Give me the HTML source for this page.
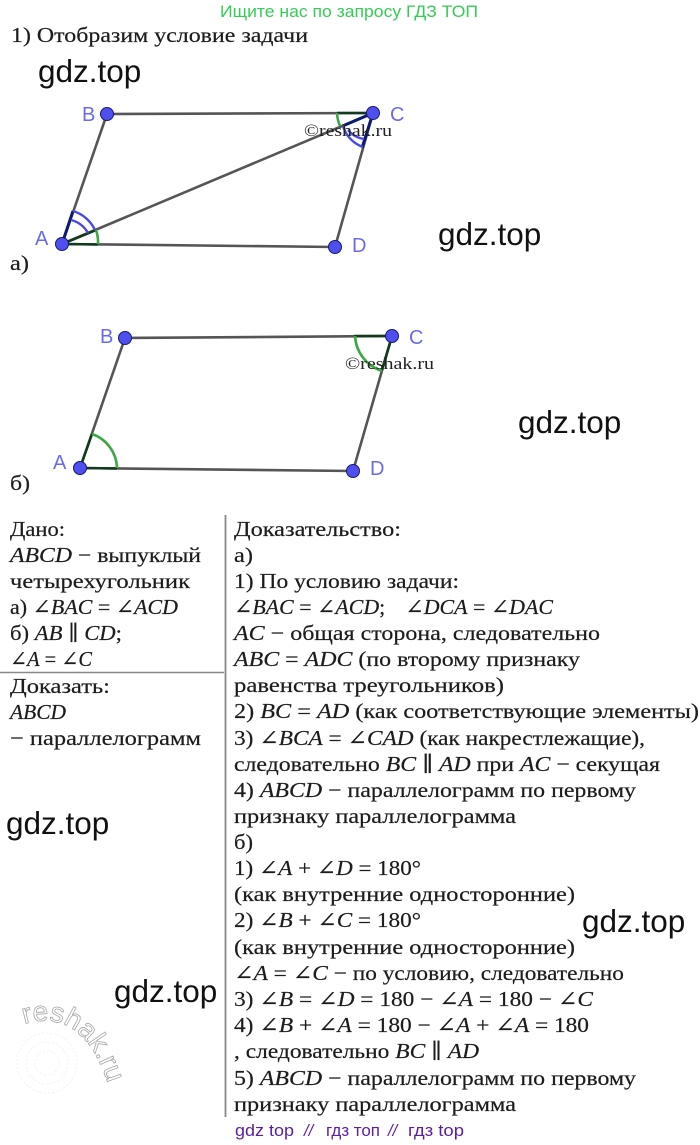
<!DOCTYPE html>
<html><head><meta charset="utf-8">
<style>
html,body{margin:0;padding:0;background:#fff;width:700px;height:1145px;overflow:hidden}
svg{display:block}
.t{font-family:"Liberation Serif","DejaVu Serif",serif;font-size:21px;fill:#1c1c1c;stroke:#1c1c1c;stroke-width:.2}
.i{font-style:italic}
.g{font-family:"Liberation Sans",sans-serif;font-size:31.500px;fill:#111}
.l{font-family:"Liberation Sans",sans-serif;font-size:20px;fill:#6a6af0}
.seg{stroke:#555;stroke-width:2.600;fill:none}
.dk{stroke:#0c1a70;stroke-width:3;fill:none}
.dg{stroke:#123a1c;stroke-width:2.600;fill:none}
.bl{stroke:#4a4ae0;stroke-width:2.400;fill:none}
.gr{stroke:#3fa648;stroke-width:2.600;fill:none}
.pt{fill:#4f4ff0;stroke:#1a1a70;stroke-width:1}
.w{font-family:"Liberation Serif",serif;font-size:17px;fill:#222}
.f{font-family:"Liberation Sans",sans-serif;font-size:16.500px;fill:#5a1e9e}
</style></head><body>
<svg width="700" height="1145" viewBox="0 0 700 1145" xmlns="http://www.w3.org/2000/svg">
<rect width="700" height="1145" fill="#fff"/>
<text x="220" y="17" font-family="Liberation Sans,sans-serif" font-size="16.500" fill="#35cc55" textLength="258" lengthAdjust="spacingAndGlyphs">Ищите нас по запросу ГДЗ ТОП</text>
<text class="t" x="11" y="42" textLength="297" lengthAdjust="spacingAndGlyphs">1) Отобразим условие задачи</text>
<text class="g" x="38" y="82">gdz.top</text>
<text class="g" x="438" y="245">gdz.top</text>
<text class="g" x="518" y="433">gdz.top</text>
<text class="g" x="6" y="834">gdz.top</text>
<text class="g" x="582" y="932">gdz.top</text>
<text class="g" x="114" y="1002">gdz.top</text>

<!-- figure a -->
<path class="seg" d="M62 244L107 114L373 113L335 247L62 244L373 113"/>
<path class="dk" d="M62 244L73 211M373 113L362 148M373 113L345 125"/>
<path class="dg" d="M62 244L98 244.500M62 244L96 230M373 113L337 113"/>
<path class="bl" d="M73 211A36 36 0 0 1 95 230M71 220A27 27 0 0 1 88 233"/>
<path class="gr" d="M96 230A37 37 0 0 1 98 244M337 113A37 37 0 0 0 340 126"/>
<path class="bl" d="M343 126A32 32 0 0 0 363 147M348 130A26 26 0 0 0 364 139"/>
<circle class="pt" cx="107" cy="114" r="6.500"/><circle class="pt" cx="373" cy="113" r="6.500"/><circle class="pt" cx="62" cy="244" r="6.500"/><circle class="pt" cx="335" cy="247" r="6.500"/>
<text class="l" x="82" y="121">B</text><text class="l" x="390" y="121">C</text><text class="l" x="35" y="245">A</text><text class="l" x="352" y="252">D</text>
<text class="w" x="304" y="136" textLength="88" lengthAdjust="spacingAndGlyphs">©reshak.ru</text>
<text class="t" x="10" y="270" textLength="19" lengthAdjust="spacingAndGlyphs">а)</text>

<!-- figure b -->
<path class="seg" d="M125 338L392 336L353 471L80 468Z"/>
<path class="dg" d="M80 468L92 434M80 468L117 468.500M392 336L354 336M392 336L382 370"/>
<path class="gr" d="M92 434A37 37 0 0 1 117 468M355 336A39 39 0 0 0 382 371"/>
<circle class="pt" cx="125" cy="338" r="6.500"/><circle class="pt" cx="392" cy="336" r="6.500"/><circle class="pt" cx="80" cy="468" r="6.500"/><circle class="pt" cx="353" cy="471" r="6.500"/>
<text class="l" x="100" y="343">B</text><text class="l" x="409" y="344">C</text><text class="l" x="53" y="469">A</text><text class="l" x="370" y="475">D</text>
<text class="w" x="345" y="369" textLength="89" lengthAdjust="spacingAndGlyphs">©reshak.ru</text>
<text class="t" x="10" y="490" textLength="20" lengthAdjust="spacingAndGlyphs">б)</text>

<!-- dividers -->
<path d="M225.500 515V1117" stroke="#888" stroke-width="1.800" fill="none"/>
<path d="M0 672.500H224" stroke="#888" stroke-width="1.400" fill="none"/>

<!-- left column -->
<g class="t">
<text x="10" y="536" textLength="55" lengthAdjust="spacingAndGlyphs">Дано:</text>
<text x="10" y="562" textLength="191" lengthAdjust="spacingAndGlyphs"><tspan class="i">ABCD</tspan> − выпуклый</text>
<text x="10" y="588" textLength="180" lengthAdjust="spacingAndGlyphs">четырехугольник</text>
<text x="10" y="614" textLength="168" lengthAdjust="spacingAndGlyphs">а) <tspan class="i">∠BAC</tspan> = <tspan class="i">∠ACD</tspan></text>
<text x="10" y="640" textLength="112" lengthAdjust="spacingAndGlyphs">б) <tspan class="i">AB</tspan> ∥ <tspan class="i">CD</tspan>;</text>
<text x="10" y="666" textLength="82" lengthAdjust="spacingAndGlyphs"><tspan class="i">∠A</tspan> = <tspan class="i">∠C</tspan></text>
<text x="10" y="693" textLength="100" lengthAdjust="spacingAndGlyphs">Доказать:</text>
<text x="10" y="719" textLength="56" lengthAdjust="spacingAndGlyphs" class="i">ABCD</text>
<text x="10" y="745" textLength="191" lengthAdjust="spacingAndGlyphs">− параллелограмм</text>
</g>

<!-- right column -->
<g class="t">
<text x="234" y="536" textLength="167" lengthAdjust="spacingAndGlyphs">Доказательство:</text>
<text x="234" y="562" textLength="19" lengthAdjust="spacingAndGlyphs">а)</text>
<text x="234" y="588" textLength="225" lengthAdjust="spacingAndGlyphs">1) По условию задачи:</text>
<text x="234" y="614" textLength="319" lengthAdjust="spacingAndGlyphs"><tspan class="i">∠BAC</tspan> = <tspan class="i">∠ACD</tspan>;  <tspan class="i" dx="14">∠DCA</tspan> = <tspan class="i">∠DAC</tspan></text>
<text x="234" y="640" textLength="366" lengthAdjust="spacingAndGlyphs"><tspan class="i">AC</tspan> − общая сторона, следовательно</text>
<text x="234" y="666" textLength="346" lengthAdjust="spacingAndGlyphs"><tspan class="i">ABC</tspan> = <tspan class="i">ADC</tspan> (по второму признаку</text>
<text x="234" y="692" textLength="270" lengthAdjust="spacingAndGlyphs">равенства треугольников)</text>
<text x="234" y="718" textLength="465" lengthAdjust="spacingAndGlyphs">2) <tspan class="i">BC</tspan> = <tspan class="i">AD</tspan> (как соответствующие элементы)</text>
<text x="234" y="745" textLength="411" lengthAdjust="spacingAndGlyphs">3) <tspan class="i">∠BCA</tspan> = <tspan class="i">∠CAD</tspan> (как накрестлежащие),</text>
<text x="234" y="771" textLength="426" lengthAdjust="spacingAndGlyphs">следовательно <tspan class="i">BC</tspan> ∥ <tspan class="i">AD</tspan> при <tspan class="i">AC</tspan> − секущая</text>
<text x="234" y="797" textLength="402" lengthAdjust="spacingAndGlyphs">4) <tspan class="i">ABCD</tspan> − параллелограмм по первому</text>
<text x="234" y="823" textLength="282" lengthAdjust="spacingAndGlyphs">признаку параллелограмма</text>
<text x="234" y="849" textLength="19" lengthAdjust="spacingAndGlyphs">б)</text>
<text x="234" y="875" textLength="187" lengthAdjust="spacingAndGlyphs">1) <tspan class="i">∠A</tspan> + <tspan class="i">∠D</tspan> = 180°</text>
<text x="234" y="901" textLength="341" lengthAdjust="spacingAndGlyphs">(как внутренние односторонние)</text>
<text x="234" y="927" textLength="187" lengthAdjust="spacingAndGlyphs">2) <tspan class="i">∠B</tspan> + <tspan class="i">∠C</tspan> = 180°</text>
<text x="234" y="954" textLength="341" lengthAdjust="spacingAndGlyphs">(как внутренние односторонние)</text>
<text x="234" y="980" textLength="390" lengthAdjust="spacingAndGlyphs"><tspan class="i">∠A</tspan> = <tspan class="i">∠C</tspan> − по условию, следовательно</text>
<text x="234" y="1006" textLength="359" lengthAdjust="spacingAndGlyphs">3) <tspan class="i">∠B</tspan> = <tspan class="i">∠D</tspan> = 180 − <tspan class="i">∠A</tspan> = 180 − <tspan class="i">∠C</tspan></text>
<text x="234" y="1032" textLength="355" lengthAdjust="spacingAndGlyphs">4) <tspan class="i">∠B</tspan> + <tspan class="i">∠A</tspan> = 180 − <tspan class="i">∠A</tspan> + <tspan class="i">∠A</tspan> = 180</text>
<text x="234" y="1058" textLength="245" lengthAdjust="spacingAndGlyphs">, следовательно <tspan class="i">BC</tspan> ∥ <tspan class="i">AD</tspan></text>
<text x="234" y="1085" textLength="402" lengthAdjust="spacingAndGlyphs">5) <tspan class="i">ABCD</tspan> − параллелограмм по первому</text>
<text x="234" y="1111" textLength="282" lengthAdjust="spacingAndGlyphs">признаку параллелограмма</text>
</g>

<!-- footer -->
<text class="f" x="235" y="1136" textLength="59" lengthAdjust="spacingAndGlyphs">gdz top</text>
<text class="f" x="304" y="1136" font-style="italic">//</text>
<text class="f" x="326" y="1136" textLength="54" lengthAdjust="spacingAndGlyphs">гдз топ</text>
<text class="f" x="388" y="1136" font-style="italic">//</text>
<text class="f" x="408" y="1136" textLength="56" lengthAdjust="spacingAndGlyphs">гдз top</text>

<!-- watermark -->
<defs><path id="arc" d="M24 1024Q85 1006 110 1090"/></defs>
<text font-family="Liberation Sans,sans-serif" font-size="28" fill="none" stroke="#a8a8a8" stroke-width="0.800"><textPath href="#arc">reshak.ru</textPath></text>
<g fill="none" stroke="#eee" stroke-width="0.800" stroke-dasharray="2 2">
<circle cx="47" cy="1063" r="30"/><circle cx="47" cy="1063" r="21"/><circle cx="47" cy="1063" r="12"/>
</g>
</svg>
</body></html>
